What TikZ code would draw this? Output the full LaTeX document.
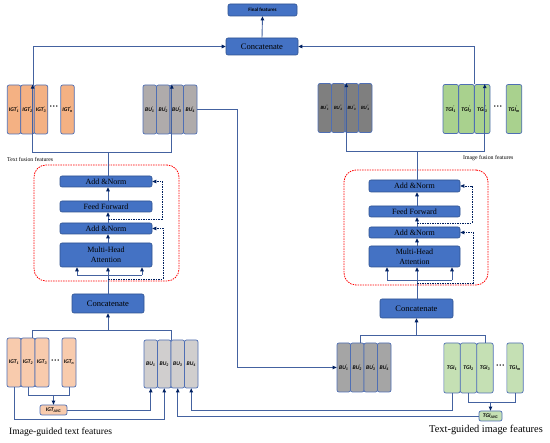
\documentclass[tikz,border=0pt]{standalone}
\usepackage{fontspec}
\setmainfont{Liberation Serif}
\newfontfamily\labfont{Carlito}
\usetikzlibrary{arrows.meta,calc}
\definecolor{lncol}{RGB}{68,98,160}
\definecolor{navy}{RGB}{0,32,96}
\definecolor{blkfill}{RGB}{68,114,196}
\definecolor{blkborder}{RGB}{47,82,143}
\definecolor{cellborder}{RGB}{79,111,180}
\definecolor{orT}{RGB}{244,177,131}
\definecolor{orB}{RGB}{248,203,173}
\definecolor{grayM}{RGB}{175,171,171}
\definecolor{grayD}{RGB}{127,127,127}
\definecolor{grayL}{RGB}{208,206,206}
\definecolor{grayM2}{RGB}{165,165,165}
\definecolor{grT}{RGB}{169,209,142}
\definecolor{grB}{RGB}{197,224,180}
\newcommand{\ssc}[2]{\makebox[0pt][l]{\textsuperscript{#1}}\textsubscript{#2}}
\newcommand{\dsc}[1]{\textsuperscript{''}\kern-1.6pt\textsubscript{#1}}
\begin{document}
\begin{tikzpicture}[x=1pt,y=-1pt,
  cell/.style={draw=cellborder, line width=0.7pt, rounded corners=2pt, minimum width=13.5pt, minimum height=49pt, inner sep=0pt, font=\labfont\fontsize{5.6}{6}\selectfont\bfseries\itshape},
  smallcell/.style={cell, font=\labfont\fontsize{4.8}{5}\selectfont\bfseries\itshape},
  blk/.style={draw=blkborder, fill=blkfill, line width=0.6pt, rounded corners=2pt, inner sep=0pt, font=\fontsize{8}{9}\selectfont, align=center},
  ln/.style={draw=lncol, line width=0.9pt},
  arr/.style={ln, -{Triangle[length=4pt,width=3.5pt,color=navy]}},
  res/.style={draw=navy, line width=0.7pt, dash pattern=on 1.5pt off 1pt, -{Triangle[length=4pt,width=3.5pt,color=navy]}},
  redbox/.style={draw=red, line width=0.8pt, dash pattern=on 1.5pt off 1pt, rounded corners=12pt, inner sep=0pt},
  dotsn/.style={inner sep=0pt, font=\bfseries\fontsize{9}{9}\selectfont},
  txt/.style={inner sep=0pt, anchor=west}
]
\useasboundingbox (0,0) rectangle (550,443);

% ---------- top feature cells ----------
\node[cell,fill=orT] (tip1) at (14,109.5) {IGT\ssc{'}{1}};
\node[cell,fill=orT] (tip2) at (27.5,109.5) {IGT\ssc{'}{2}};
\node[cell,fill=orT] (tip3) at (41,109.5) {IGT\ssc{'}{3}};
\node[cell,fill=orT] (tipn) at (67.5,109.5) {IGT\ssc{'}{n}};
\node[dotsn] (tdl) at (54,108) {···};

\node[cell,fill=grayM] (bp1) at (149.75,109.5) {BU\ssc{'}{1}};
\node[cell,fill=grayM] (bp2) at (163.25,109.5) {BU\ssc{'}{2}};
\node[cell,fill=grayM] (bp3) at (176.75,109.5) {BU\ssc{'}{3}};
\node[cell,fill=grayM] (bp4) at (190.25,109.5) {BU\ssc{'}{4}};

\node[smallcell,fill=grayD] (bpp1) at (324.75,108) {BU\dsc{1}};
\node[smallcell,fill=grayD] (bpp2) at (338.25,108) {BU\dsc{2}};
\node[smallcell,fill=grayD] (bpp3) at (351.75,108) {BU\dsc{3}};
\node[smallcell,fill=grayD] (bpp4) at (365.25,108) {BU\dsc{4}};

\node[cell,fill=grT,minimum width=15.5pt] (tgp1) at (450.75,109) {TGI\ssc{'}{1}};
\node[cell,fill=grT,minimum width=15.5pt] (tgp2) at (466.5,109) {TGI\ssc{'}{2}};
\node[cell,fill=grT,minimum width=15.5pt] (tgp3) at (482.25,109) {TGI\ssc{'}{3}};
\node[cell,fill=grT,minimum width=15.5pt] (tgpm) at (514,109) {TGI\ssc{'}{m}};
\node[dotsn] (tdr) at (498,108) {···};

% ---------- bottom feature cells ----------
\node[cell,fill=orB,minimum width=14pt] (ig1) at (14,362.5) {IGT\textsubscript{1}};
\node[cell,fill=orB,minimum width=14pt] (ig2) at (28,362.5) {IGT\textsubscript{2}};
\node[cell,fill=orB,minimum width=14pt] (ig3) at (42,362.5) {IGT\textsubscript{3}};
\node[cell,fill=orB,minimum width=14pt] (ign) at (69,362.5) {IGT\textsubscript{n}};
\node[dotsn] (bdl) at (55.5,362) {···};
\node[cell,fill=orB,minimum width=27pt,minimum height=10pt] (igavg) at (53.5,410) {IGT\textsubscript{AVG}};

\node[cell,fill=grayL,minimum height=48pt] (bu1) at (150.75,364) {BU\textsubscript{1}};
\node[cell,fill=grayL,minimum height=48pt] (bu2) at (164.25,364) {BU\textsubscript{2}};
\node[cell,fill=grayL,minimum height=48pt] (bu3) at (177.75,364) {BU\textsubscript{3}};
\node[cell,fill=grayL,minimum height=48pt] (bu4) at (191.25,364) {BU\textsubscript{4}};

\node[cell,fill=grayM2] (bub1) at (343.75,367.5) {BU\ssc{'}{1}};
\node[cell,fill=grayM2] (bub2) at (357.25,367.5) {BU\ssc{'}{2}};
\node[cell,fill=grayM2] (bub3) at (370.75,367.5) {BU\ssc{'}{3}};
\node[cell,fill=grayM2] (bub4) at (384.25,367.5) {BU\ssc{'}{4}};

\node[cell,fill=grB,minimum width=16.3pt,minimum height=50pt] (tg1) at (452,368) {TGI\textsubscript{1}};
\node[cell,fill=grB,minimum width=16.3pt,minimum height=50pt] (tg2) at (468.5,368) {TGI\textsubscript{2}};
\node[cell,fill=grB,minimum width=16.3pt,minimum height=50pt] (tg3) at (485,368) {TGI\textsubscript{3}};
\node[cell,fill=grB,minimum width=16.3pt,minimum height=50pt] (tgm) at (515,368) {TGI\textsubscript{m}};
\node[dotsn] (bdr) at (500.5,367) {···};
\node[cell,fill=grB,minimum width=23pt,minimum height=10pt] (tgavg) at (490.5,416) {TGI\textsubscript{AVG}};

% ---------- blocks ----------
\node[blk,minimum width=69pt,minimum height=12pt,font=\labfont\bfseries\fontsize{5}{6}\selectfont] (fin) at (262.5,10) {Final features};
\node[blk,minimum width=72pt,minimum height=17pt,font=\fontsize{8.5}{9}\selectfont] (ctop) at (262,46.5) {Concatenate};

\node[redbox,minimum width=145pt,minimum height=116pt] (lred) at (106.5,223) {};
\node[blk,minimum width=92pt,minimum height=11pt] (lan1) at (106,181.5) {Add \&Norm};
\node[blk,minimum width=92pt,minimum height=11pt] (lff) at (106,206.5) {Feed Forward};
\node[blk,minimum width=92pt,minimum height=11pt] (lan2) at (106,228.5) {Add \&Norm};
\node[blk,minimum width=92pt,minimum height=24pt] (lmha) at (106,255) {Multi-Head\\[1pt]Attention};
\node[blk,minimum width=72pt,minimum height=19pt,font=\fontsize{8.5}{9}\selectfont] (lcat) at (108,303.5) {Concatenate};

\node[redbox,minimum width=144pt,minimum height=115pt] (rred) at (416,227.5) {};
\node[blk,minimum width=91pt,minimum height=12pt] (ran1) at (414.5,186) {Add \&Norm};
\node[blk,minimum width=91pt,minimum height=11pt] (rff) at (414.5,211.5) {Feed Forward};
\node[blk,minimum width=91pt,minimum height=11pt] (ran2) at (414.5,232.5) {Add \&Norm};
\node[blk,minimum width=91pt,minimum height=21pt] (rmha) at (414.5,256.5) {Multi-Head\\[1pt]Attention};
\node[blk,minimum width=73pt,minimum height=19pt,font=\fontsize{8.5}{9}\selectfont] (rcat) at (416.5,308.5) {Concatenate};

% ---------- text labels ----------
\node[txt,font=\fontsize{5.8}{6}\selectfont] (tff) at (7,159) {Text fusion features};
\node[txt,font=\fontsize{5.8}{6}\selectfont] (iff) at (463,158) {Image fusion features};
\node[txt,font=\fontsize{9.6}{10}\selectfont] (igtf) at (9,432) {Image-guided text features};
\node[txt,font=\fontsize{10.4}{11}\selectfont] (tgif) at (429,430) {Text-guided image features};

% ---------- coordinates ----------
\coordinate (lx) at (108,0);
\coordinate (rx) at (417,0);
\coordinate (lbr) at (108,275);
\coordinate (lbrL) at (77,275);
\coordinate (lbrR) at (142,275);
\coordinate (lsp) at (108,152);
\coordinate (rbr) at (417,280);
\coordinate (rbrL) at (387,280);
\coordinate (rbrR) at (452,280);
\coordinate (rsp) at (417,151);
\coordinate (bux) at (237,0);
\coordinate (lj) at (108,330);
\coordinate (rj) at (416.5,335);
\coordinate (ija) at (0,395);
\coordinate (y419) at (0,419);
\coordinate (y410) at (0,410);
\coordinate (tja) at (0,402);

% ---------- top ----------
\draw[arr] (ctop.north) -- (fin.south);
\draw[arr] ([xshift=-1pt]tip2.north east) |- (ctop.west);
\draw[arr] (tgp2.north east) |- (ctop.east);

% ---------- left transformer ----------
\draw[ln] (lcat.north) -- (lbr);
\draw[ln] (lbrL) -- (lbrR);
\draw[arr] (lbrL) -- (lbrL |- lmha.south);
\draw[arr] (lbr) -- (lbr |- lmha.south);
\draw[arr] (lbrR) -- (lbrR |- lmha.south);
\draw[arr] (lmha.north -| lx) -- (lan2.south -| lx);
\draw[arr] (lan2.north -| lx) -- (lff.south -| lx);
\draw[arr] (lff.north -| lx) -- (lan1.south -| lx);
\draw[ln] (lan1.north -| lx) -- (lsp);
\draw[res] (108,279) -- ++(55,0) |- (lan2.east);
\draw[res] (108,219) -- ++(54,0) |- (lan1.east);
\draw[arr] (lsp) -| ([xshift=-2pt]tip2.north east);
\draw[arr] (lsp) -| ([xshift=1.5pt]bp2.north east);

% ---------- right transformer ----------
\draw[ln] (rcat.north -| rx) -- (rbr);
\draw[ln] (rbrL) -- (rbrR);
\draw[arr] (rbrL) -- (rbrL |- rmha.south);
\draw[arr] (rbr) -- (rbr |- rmha.south);
\draw[arr] (rbrR) -- (rbrR |- rmha.south);
\draw[arr] (rmha.north -| rx) -- (ran2.south -| rx);
\draw[arr] (ran2.north -| rx) -- (rff.south -| rx);
\draw[arr] (rff.north -| rx) -- (ran1.south -| rx);
\draw[ln] (ran1.north -| rx) -- (rsp);
\draw[res] (417,283) -- ++(56,0) |- (ran2.east);
\draw[res] (417,223) -- ++(55,0) |- (ran1.east);
\draw[arr] (rsp) -| ([xshift=1pt]bpp2.north east);
\draw[arr] (rsp) -| ([xshift=2.5pt]tgp3.north);

% ---------- cross link BU' ----------
\draw[arr] (bp4.east) -- (bp4.east -| bux) -- (bub1.west -| bux) -- (bub1.west);

% ---------- bottom concatenations ----------
\draw[ln] ([xshift=-3pt]ig2.north east) |- (bu2.north east |- lj) -- (bu2.north east);
\draw[arr] (lj) -- (lcat.south);
\draw[ln] ([xshift=3pt]bub2.north) |- (tg3.north |- rj) -- (tg3.north);
\draw[arr] (rj) -- (rcat.south);

% ---------- averages ----------
\draw[ln] (ig2.south) -- (ig2.south |- ija) -- (ign.south |- ija) -- (ign.south);
\draw[arr] (igavg.north |- ija) -- (igavg.north);
\draw[ln] (tg2.south) -- (tg2.south |- tja) -- (tgm.south |- tja) -- (tgm.south);
\draw[arr] (tgavg.north |- tja) -- (tgavg.north);

% ---------- links into BU ----------
\draw[arr] (igavg.east) -| (bu1.south);
\draw[arr] (ig1.south) -- (ig1.south |- y419) -| (bu2.south);
\draw[arr] (tgavg.west) -| (bu3.south);
\draw[arr] (tg1.south) -- (tg1.south |- y410) -| (bu4.south);
\end{tikzpicture}
\end{document}
